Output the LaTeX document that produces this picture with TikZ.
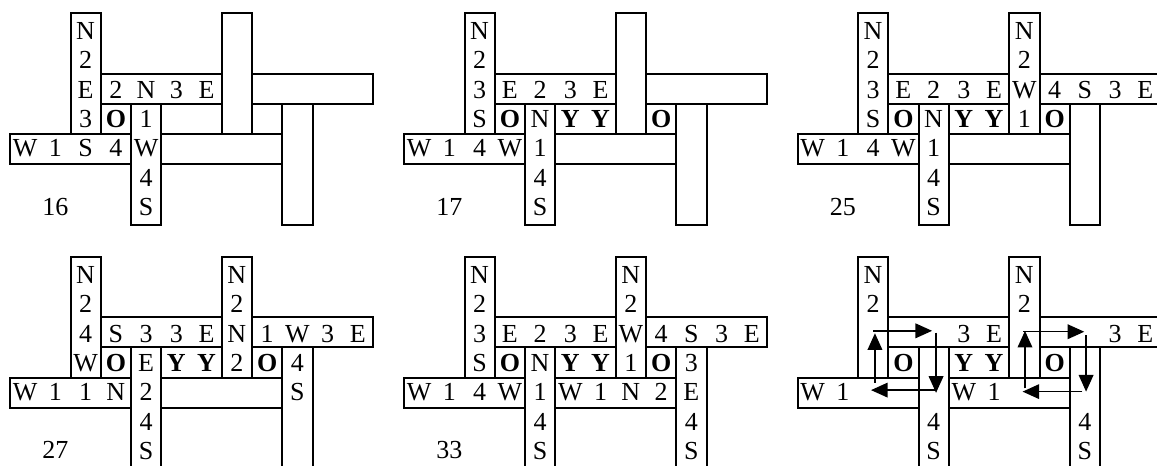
\documentclass[tikz,border=0pt]{standalone}
\usepackage{fontspec}
\setmainfont{Liberation Serif}
\usetikzlibrary{arrows.meta}
\tikzset{
  strip/.style={draw=black, fill=white, line width=1.5pt, line join=miter},
  txt/.style={anchor=base, inner sep=0pt, font=\fontsize{19.5}{22}\selectfont},
  arr/.style={line width=1.1pt, -{Triangle[length=12.5pt,width=11pt]}},
  panel/.style={x=22.6875pt, y=-22.6875pt}
}
\newcommand\weavegrid{%
  \draw[strip] (3,2) rectangle (12,3);
  \draw[strip] (7,0) rectangle (8,4);
  \draw[strip] (2,0) rectangle (3,4);
  \draw[strip] (0,4) rectangle (9,5);
  \draw[strip] (4,3) rectangle (5,7);
  \draw[strip] (9,3) rectangle (10,7);
}
\newcommand\cl[3]{\node[txt] (c#1r#2) at (#1+0.5,#2*0.97+0.88) {#3};}
\newcommand\bo[1]{\textbf{#1}}
\begin{document}
\begin{tikzpicture}[x=0.75pt,y=-0.75pt]
\useasboundingbox (0,0) rectangle (1157,465);
\clip (0,0) rectangle (1157,465);
% ---------- panel 16
\begin{scope}[shift={(7.5pt,-9.75pt)},panel,name prefix=p1-]
\weavegrid
\cl{2}{0}{N}\cl{2}{1}{2}\cl{2}{2}{E}\cl{2}{3}{3}
\cl{3}{2}{2}\cl{4}{2}{N}\cl{5}{2}{3}\cl{6}{2}{E}
\cl{3}{3}{\bo{O}}\cl{4}{3}{1}
\cl{0}{4}{W}\cl{1}{4}{1}\cl{2}{4}{S}\cl{3}{4}{4}\cl{4}{4}{W}
\cl{4}{5}{4}\cl{4}{6}{S}
\node[txt] (label) at (1.5,6.7) {16};
\end{scope}
% ---------- panel 17
\begin{scope}[shift={(303pt,-9.75pt)},panel,name prefix=p2-]
\weavegrid
\cl{2}{0}{N}\cl{2}{1}{2}\cl{2}{2}{3}\cl{2}{3}{S}
\cl{3}{2}{E}\cl{4}{2}{2}\cl{5}{2}{3}\cl{6}{2}{E}
\cl{3}{3}{\bo{O}}\cl{4}{3}{N}\cl{5}{3}{\bo{Y}}\cl{6}{3}{\bo{Y}}\cl{8}{3}{\bo{O}}
\cl{0}{4}{W}\cl{1}{4}{1}\cl{2}{4}{4}\cl{3}{4}{W}\cl{4}{4}{1}
\cl{4}{5}{4}\cl{4}{6}{S}
\node[txt] (label) at (1.5,6.7) {17};
\end{scope}
% ---------- panel 25
\begin{scope}[shift={(598.125pt,-9.75pt)},panel,name prefix=p3-]
\weavegrid
\cl{2}{0}{N}\cl{2}{1}{2}\cl{2}{2}{3}\cl{2}{3}{S}
\cl{7}{0}{N}\cl{7}{1}{2}\cl{7}{2}{W}\cl{7}{3}{1}
\cl{3}{2}{E}\cl{4}{2}{2}\cl{5}{2}{3}\cl{6}{2}{E}
\cl{8}{2}{4}\cl{9}{2}{S}\cl{10}{2}{3}\cl{11}{2}{E}
\cl{3}{3}{\bo{O}}\cl{4}{3}{N}\cl{5}{3}{\bo{Y}}\cl{6}{3}{\bo{Y}}\cl{8}{3}{\bo{O}}
\cl{0}{4}{W}\cl{1}{4}{1}\cl{2}{4}{4}\cl{3}{4}{W}\cl{4}{4}{1}
\cl{4}{5}{4}\cl{4}{6}{S}
\node[txt] (label) at (1.5,6.7) {25};
\end{scope}
% ---------- panel 27
\begin{scope}[shift={(7.5pt,-192.525pt)},panel,name prefix=p4-]
\weavegrid
\cl{2}{0}{N}\cl{2}{1}{2}\cl{2}{2}{4}\cl{2}{3}{W}
\cl{7}{0}{N}\cl{7}{1}{2}\cl{7}{2}{N}\cl{7}{3}{2}
\cl{3}{2}{S}\cl{4}{2}{3}\cl{5}{2}{3}\cl{6}{2}{E}
\cl{8}{2}{1}\cl{9}{2}{W}\cl{10}{2}{3}\cl{11}{2}{E}
\cl{3}{3}{\bo{O}}\cl{4}{3}{E}\cl{5}{3}{\bo{Y}}\cl{6}{3}{\bo{Y}}\cl{8}{3}{\bo{O}}\cl{9}{3}{4}
\cl{0}{4}{W}\cl{1}{4}{1}\cl{2}{4}{1}\cl{3}{4}{N}\cl{4}{4}{2}\cl{9}{4}{S}
\cl{4}{5}{4}\cl{4}{6}{S}
\node[txt] (label) at (1.5,6.66) {27};
\end{scope}
% ---------- panel 33
\begin{scope}[shift={(303pt,-192.525pt)},panel,name prefix=p5-]
\weavegrid
\cl{2}{0}{N}\cl{2}{1}{2}\cl{2}{2}{3}\cl{2}{3}{S}
\cl{7}{0}{N}\cl{7}{1}{2}\cl{7}{2}{W}\cl{7}{3}{1}
\cl{3}{2}{E}\cl{4}{2}{2}\cl{5}{2}{3}\cl{6}{2}{E}
\cl{8}{2}{4}\cl{9}{2}{S}\cl{10}{2}{3}\cl{11}{2}{E}
\cl{3}{3}{\bo{O}}\cl{4}{3}{N}\cl{5}{3}{\bo{Y}}\cl{6}{3}{\bo{Y}}\cl{8}{3}{\bo{O}}\cl{9}{3}{3}
\cl{0}{4}{W}\cl{1}{4}{1}\cl{2}{4}{4}\cl{3}{4}{W}\cl{4}{4}{1}
\cl{5}{4}{W}\cl{6}{4}{1}\cl{7}{4}{N}\cl{8}{4}{2}\cl{9}{4}{E}
\cl{4}{5}{4}\cl{4}{6}{S}\cl{9}{5}{4}\cl{9}{6}{S}
\node[txt] (label) at (1.5,6.66) {33};
\end{scope}
% ---------- panel with loops
\begin{scope}[shift={(598.125pt,-192.525pt)},panel,name prefix=p6-]
\weavegrid
\cl{2}{0}{N}\cl{2}{1}{2}
\cl{7}{0}{N}\cl{7}{1}{2}
\cl{5}{2}{3}\cl{6}{2}{E}\cl{10}{2}{3}\cl{11}{2}{E}
\cl{3}{3}{\bo{O}}\cl{5}{3}{\bo{Y}}\cl{6}{3}{\bo{Y}}\cl{8}{3}{\bo{O}}
\cl{0}{4}{W}\cl{1}{4}{1}\cl{5}{4}{W}\cl{6}{4}{1}
\cl{4}{5}{4}\cl{4}{6}{S}\cl{9}{5}{4}\cl{9}{6}{S}
% left loop
\coordinate (Lt1) at (2.50,2.45); \coordinate (Lt2) at (4.45,2.45);
\coordinate (Lr1) at (4.58,2.51); \coordinate (Lr2) at (4.58,4.50);
\coordinate (Lb1) at (4.58,4.41); \coordinate (Lb2) at (2.43,4.41);
\coordinate (Ll1) at (2.56,4.16); \coordinate (Ll2) at (2.56,2.53);
\draw[arr] (Lt1) -- (Lt2);
\draw[arr] (Lr1) -- (Lr2);
\draw[arr] (Lb1) -- (Lb2);
\draw[arr] (Ll1) -- (Ll2);
% right loop
\coordinate (Rt1) at (7.46,2.48); \coordinate (Rt2) at (9.48,2.48);
\coordinate (Rr1) at (9.54,2.59); \coordinate (Rr2) at (9.54,4.46);
\coordinate (Rb1) at (9.42,4.46); \coordinate (Rb2) at (7.44,4.46);
\coordinate (Rl1) at (7.52,4.35); \coordinate (Rl2) at (7.52,2.45);
\draw[arr] (Rt1) -- (Rt2);
\draw[arr] (Rr1) -- (Rr2);
\draw[arr] (Rb1) -- (Rb2);
\draw[arr] (Rl1) -- (Rl2);
\end{scope}
\end{tikzpicture}
\end{document}
